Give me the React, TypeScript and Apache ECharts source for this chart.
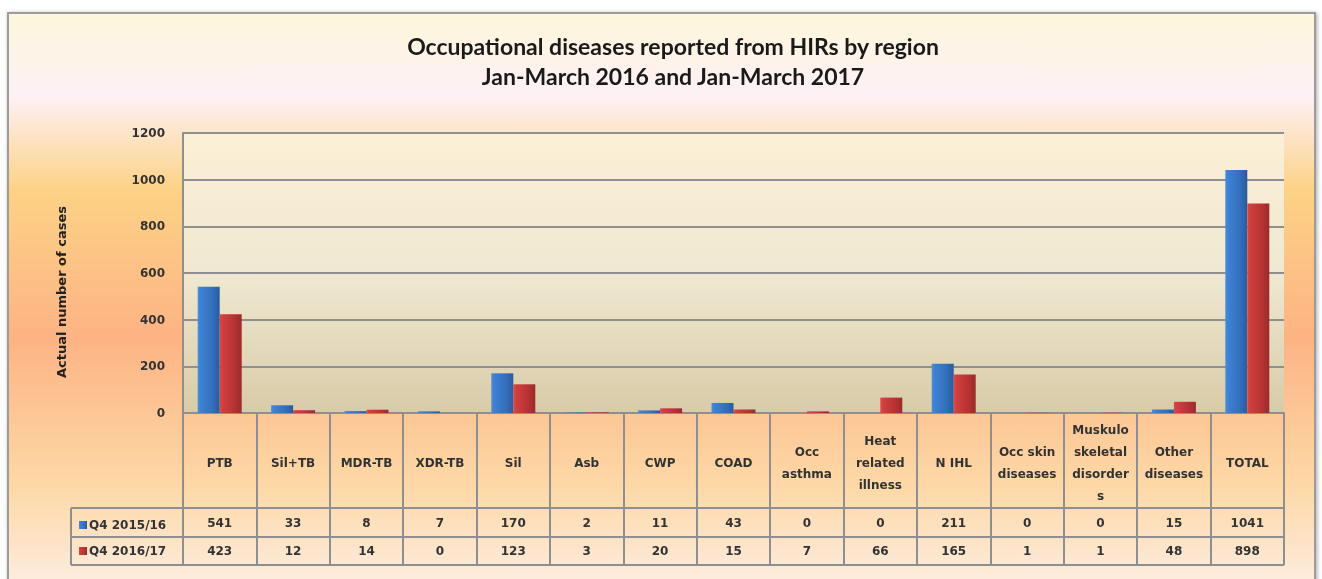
import React, { useEffect, useRef } from "react";
import * as echarts from "echarts";

const categories = [
  "PTB",
  "Sil+TB",
  "MDR-TB",
  "XDR-TB",
  "Sil",
  "Asb",
  "CWP",
  "COAD",
  "Occ\nasthma",
  "Heat\nrelated\nillness",
  "N IHL",
  "Occ skin\ndiseases",
  "Muskulo\nskeletal\ndisorder\ns",
  "Other\ndiseases",
  "TOTAL",
];
const seriesNames = ["Q4 2015/16", "Q4 2016/17"];
const q4_2015_16 = [541, 33, 8, 7, 170, 2, 11, 43, 0, 0, 211, 0, 0, 15, 1041];
const q4_2016_17 = [423, 12, 14, 0, 123, 3, 20, 15, 7, 66, 165, 1, 1, 48, 898];
const yMin = 0;
const yMax = 1200;
const yStep = 200;
const titleLines = [
  "Occupational diseases reported from HIRs by region",
  "Jan-March 2016 and Jan-March 2017",
];
const yAxisTitle = "Actual number of cases";

const GRID_L = 183;
const GRID_R = 1284;
const GRID_T = 133;
const GRID_B = 413;
const ROW1 = 508;
const ROW2 = 537;
const ROW3 = 565;
const LEG_L = 71;
const LINE_C = "#8f8f8f";
const TXT_C = "#333333";
const FONT = "DejaVu Sans";

const blueGrad = new echarts.graphic.LinearGradient(1, 0, 0, 0, [
  { offset: 0, color: "#2a5a9c" },
  { offset: 0.35, color: "#3470bd" },
  { offset: 0.85, color: "#3d80d2" },
  { offset: 1, color: "#4a8ddc" },
]);
const redGrad = new echarts.graphic.LinearGradient(1, 0, 0, 0, [
  { offset: 0, color: "#9c2a2a" },
  { offset: 0.35, color: "#b83333" },
  { offset: 0.85, color: "#cf3e3e" },
  { offset: 1, color: "#d94a4a" },
]);

export default function App() {
  const ref = useRef<HTMLDivElement>(null);
  useEffect(() => {
    document.body.style.margin = "0";
    if (!ref.current) return;
    const chart = echarts.init(ref.current, null, { renderer: "svg" });
    const valueAxis = (vals: number[], margin: number) => ({
      type: "category",
      data: categories,
      position: "bottom",
      gridIndex: 0,
      axisLine: { show: false },
      axisTick: { show: false },
      splitLine: { show: false },
      axisLabel: {
        interval: 0,
        margin,
        verticalAlign: "middle",
        fontFamily: FONT,
        fontWeight: "bold",
        fontSize: 12,
        color: TXT_C,
        formatter: (_v: string, i: number) => String(vals[i]),
      },
    });
    const hLine = (y: number, x1: number) => ({
      type: "line",
      z: 5,
      shape: { x1, y1: y, x2: GRID_R, y2: y },
      style: { stroke: LINE_C, lineWidth: 2 },
    });
    chart.setOption({
      animation: false,
      title: {
        text: titleLines.join("\n"),
        left: 668,
        textAlign: "center",
        top: 26,
        textStyle: {
          fontFamily: "Lato",
          fontWeight: "bold",
          fontSize: 23,
          lineHeight: 30,
          color: "#1a1a1a",
        },
      },
      graphic: [
        {
          type: "rect",
          z: -100,
          silent: true,
          shape: { x: 8, y: 13, width: 1307, height: 590 },
          style: {
            fill: new echarts.graphic.LinearGradient(0, 0, 0, 1, [
              { offset: 0, color: "#fef6da" },
              { offset: 0.14, color: "#fdf1f6" },
              { offset: 0.3, color: "#fdd286" },
              { offset: 0.55, color: "#fdb384" },
              { offset: 0.8, color: "#fdd8a6" },
              { offset: 1, color: "#fdf0ea" },
            ]),
            stroke: "#9c9c9c",
            lineWidth: 2,
            shadowBlur: 4,
            shadowColor: "rgba(0,0,0,0.35)",
            shadowOffsetX: 1,
            shadowOffsetY: 1,
          },
        },
        hLine(ROW1, LEG_L),
        hLine(ROW2, LEG_L),
        hLine(ROW3, LEG_L),
        {
          type: "line",
          z: 5,
          shape: { x1: LEG_L, y1: ROW1, x2: LEG_L, y2: ROW3 },
          style: { stroke: LINE_C, lineWidth: 2 },
        },
      ],
      legend: {
        orient: "vertical",
        left: LEG_L + 3,
        top: ROW1 + 6,
        itemWidth: 8,
        itemHeight: 8,
        itemGap: 14,
        icon: "rect",
        data: seriesNames,
        textStyle: {
          fontFamily: FONT,
          fontWeight: "bold",
          fontSize: 12,
          color: TXT_C,
          padding: [0, 0, 0, -3],
        },
      },
      grid: {
        left: GRID_L,
        right: 1322 - GRID_R,
        top: GRID_T,
        bottom: 579 - GRID_B,
        show: true,
        borderWidth: 0,
        backgroundColor: new echarts.graphic.LinearGradient(0, 0, 0, 1, [
          { offset: 0, color: "#fcf0d6" },
          { offset: 0.5, color: "#f0e8d2" },
          { offset: 1, color: "#d8cba8" },
        ]),
      },
      xAxis: [
        {
          type: "category",
          data: categories,
          position: "bottom",
          axisLine: { show: true, lineStyle: { color: LINE_C, width: 2 } },
          axisTick: {
            show: true,
            interval: 0,
            length: ROW3 - GRID_B,
            lineStyle: { color: LINE_C, width: 2 },
          },
          axisLabel: {
            interval: 0,
            margin: 50,
            verticalAlign: "middle",
            lineHeight: 22,
            fontFamily: FONT,
            fontWeight: "bold",
            fontSize: 12,
            color: TXT_C,
          },
        },
        valueAxis(q4_2015_16, (ROW1 + ROW2) / 2 - GRID_B),
        valueAxis(q4_2016_17, (ROW2 + ROW3) / 2 - GRID_B),
      ],
      yAxis: {
        type: "value",
        min: yMin,
        max: yMax,
        interval: yStep,
        name: yAxisTitle,
        nameLocation: "middle",
        nameRotate: 90,
        nameGap: 115,
        nameTextStyle: {
          fontFamily: FONT,
          fontWeight: "bold",
          fontSize: 13,
          color: "#222",
          padding: [0, 38, 0, 0],
        },
        axisLine: { show: true, lineStyle: { color: LINE_C, width: 2 } },
        axisTick: { show: false },
        splitLine: { lineStyle: { color: LINE_C, width: 2 } },
        axisLabel: {
          margin: 18,
          fontFamily: FONT,
          fontWeight: "bold",
          fontSize: 12,
          color: TXT_C,
          formatter: (v: number) => String(v),
        },
      },
      series: [
        {
          name: seriesNames[0],
          type: "bar",
          xAxisIndex: 0,
          data: q4_2015_16,
          barWidth: 22,
          barGap: "0%",
          itemStyle: { color: blueGrad },
        },
        {
          name: seriesNames[1],
          type: "bar",
          xAxisIndex: 0,
          data: q4_2016_17,
          barWidth: 22,
          barGap: "0%",
          itemStyle: { color: redGrad },
        },
      ],
    });
    return () => chart.dispose();
  }, []);
  return (
    <div
      ref={ref}
      style={{ position: "fixed", left: 0, top: 0, width: 1322, height: 579 }}
    />
  );
}
